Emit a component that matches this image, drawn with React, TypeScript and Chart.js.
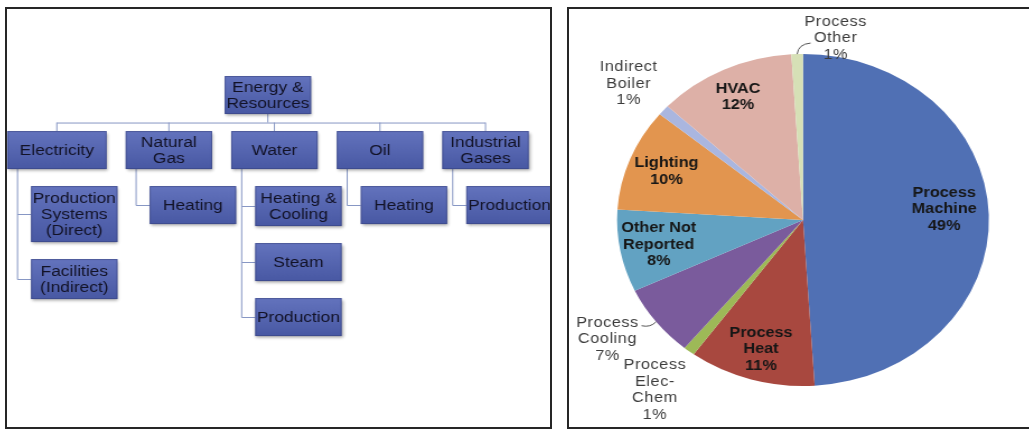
import { useEffect, useRef } from "react";
import { Chart, registerables } from "chart.js";

Chart.register(...registerables);

// ---------- Left panel: hierarchy ----------
const rootLabel = "Energy &\nResources";
const groupLabels = ["Electricity", "Natural\nGas", "Water", "Oil", "Industrial\nGases"];
const childLabels = [
  ["Production\nSystems\n(Direct)", "Facilities\n(Indirect)"],
  ["Heating"],
  ["Heating &\nCooling", "Steam", "Production"],
  ["Heating"],
  ["Production"],
];

// ---------- Right panel: pie ----------
const sliceLabels = [
  "Process\nMachine",
  "Process\nHeat",
  "Process\nElec-\nChem",
  "Process\nCooling",
  "Other Not\nReported",
  "Lighting",
  "Indirect\nBoiler",
  "HVAC",
  "Process\nOther",
];
const sliceValues = [49, 11, 1, 7, 8, 10, 1, 12, 1];
const sliceColors = [
  "#5070B4",
  "#A8483F",
  "#9DB957",
  "#7A5B9C",
  "#62A2C2",
  "#E2954F",
  "#AAB6DF",
  "#DDB0A7",
  "#D6E0B6",
];

// label placement (radius fraction + small nudges), styling only
const labelPlace = [
  { r: 0.76, dx: 0, dy: -7 },
  { r: 0.81, dx: 0, dy: 0 },
  { r: 1.29, dx: -1, dy: 1 },
  { r: 1.27, dx: -8, dy: -10 },
  { r: 0.79, dx: 0, dy: 0 },
  { r: 0.79, dx: 0, dy: 0 },
  { r: 1.25, dx: 0, dy: 1 },
  { r: 0.82, dx: 0, dy: 0 },
  { r: 1.12, dx: 35, dy: 4 },
];

const STRETCH = 1.12;
const FONT = '"Liberation Sans", Arial, Helvetica, sans-serif';

const treePlugin = {
  id: "treeDraw",
  afterDraw(chart: any) {
    const ctx = chart.ctx as CanvasRenderingContext2D;
    const xs = chart.scales.x;
    const ys = chart.scales.y;
    const area = chart.chartArea;
    const BW = 86.5 / STRETCH;
    const BH = 38;
    const GAP = 17;
    const LH = 16;
    const boxH = (lab: string) => Math.max(BH, lab.split("\n").length * LH + 8);

    const groups = groupLabels.map((lab, i) => {
      const cx = xs.getPixelForValue(i);
      let left = cx - BW / 2;
      const right = cx + BW / 2;
      if (i === 0) left = Math.min(left, area.left + 2 / STRETCH);
      const cy = ys.getPixelForValue(1);
      return { left, right, top: cy - BH / 2, bottom: cy + BH / 2, label: lab };
    });
    const rootCx = (groups[0].left + groups[groups.length - 1].right) / 2;
    const rootCy = ys.getPixelForValue(0);
    const root = { left: rootCx - BW / 2, right: rootCx + BW / 2, top: rootCy - BH / 2, bottom: rootCy + BH / 2, label: rootLabel };

    const childBoxes: any[] = [];
    const connectors: any[] = [];
    groups.forEach((g, i) => {
      let top = g.bottom + GAP;
      const left = g.left + 24 / STRETCH;
      const vx = g.left + 10.5 / STRETCH;
      let lastCy = g.bottom;
      childLabels[i].forEach((lab) => {
        const h = boxH(lab);
        const b = { left, right: left + BW, top, bottom: top + h, label: lab };
        childBoxes.push(b);
        lastCy = top + h / 2;
        connectors.push({ type: "h", x1: vx, x2: left, y: top + h / 2 });
        top += h + GAP;
      });
      connectors.push({ type: "v", x: vx, y1: g.bottom, y2: lastCy });
    });

    const busY = (root.bottom + groups[0].top) / 2;
    ctx.save();
    ctx.strokeStyle = "#8797C4";
    ctx.lineWidth = 1;
    ctx.beginPath();
    ctx.moveTo(rootCx, root.bottom);
    ctx.lineTo(rootCx, busY);
    const gc = groups.map((g) => (g.left + g.right) / 2);
    ctx.moveTo(gc[0], busY + 0.5);
    ctx.lineTo(gc[gc.length - 1], busY + 0.5);
    gc.forEach((x, i) => {
      ctx.moveTo(x, busY);
      ctx.lineTo(x, groups[i].top);
    });
    connectors.forEach((c) => {
      if (c.type === "v") {
        ctx.moveTo(c.x, c.y1);
        ctx.lineTo(c.x, c.y2 + 0.5);
      } else {
        ctx.moveTo(c.x1, Math.round(c.y) + 0.5);
        ctx.lineTo(c.x2, Math.round(c.y) + 0.5);
      }
    });
    ctx.stroke();
    ctx.restore();

    const drawBox = (b: any) => {
      const w = b.right - b.left;
      const h = b.bottom - b.top;
      ctx.save();
      ctx.shadowColor = "rgba(0,0,0,0.35)";
      ctx.shadowBlur = 3;
      ctx.shadowOffsetX = 1;
      ctx.shadowOffsetY = 2;
      const grad = ctx.createLinearGradient(0, b.top, 0, b.bottom);
      grad.addColorStop(0, "#6373BD");
      grad.addColorStop(1, "#4858A3");
      ctx.fillStyle = grad;
      ctx.fillRect(b.left, b.top, w, h);
      ctx.restore();
      ctx.save();
      ctx.strokeStyle = "rgba(55,65,125,0.55)";
      ctx.lineWidth = 1;
      ctx.strokeRect(b.left + 0.5, b.top + 0.5, w - 1, h - 1);
      ctx.fillStyle = "#121226";
      ctx.font = `15.5px ${FONT}`;
      ctx.textAlign = "center";
      ctx.textBaseline = "middle";
      const lines = b.label.split("\n");
      const cx = b.left + w / 2;
      const cy = b.top + h / 2;
      lines.forEach((t: string, k: number) => {
        ctx.fillText(t, cx, cy + (k - (lines.length - 1) / 2) * LH + 1);
      });
      ctx.restore();
    };
    drawBox(root);
    groups.forEach(drawBox);
    childBoxes.forEach(drawBox);
  },
};

const pieLabelPlugin = {
  id: "pieLabels",
  afterDatasetsDraw(chart: any) {
    const ctx = chart.ctx as CanvasRenderingContext2D;
    const arcs = chart.getDatasetMeta(0).data;
    arcs.forEach((arc: any, i: number) => {
      const { x, y, startAngle, endAngle, outerRadius } = arc.getProps(
        ["x", "y", "startAngle", "endAngle", "outerRadius"],
        true
      );
      const mid = (startAngle + endAngle) / 2;
      const p = labelPlace[i];
      const r = outerRadius * p.r;
      const cx = x + Math.cos(mid) * r + p.dx;
      const cy = y + Math.sin(mid) * r + p.dy;
      const lines = [...sliceLabels[i].split("\n"), `${sliceValues[i]}%`];
      const inside = p.r < 1;
      ctx.save();
      ctx.font = inside ? `bold 14.5px ${FONT}` : `14.5px ${FONT}`;
      (ctx as any).letterSpacing = inside ? "0px" : "0.5px";
      ctx.fillStyle = inside ? "#161616" : "#3C3C3C";
      ctx.textAlign = "center";
      ctx.textBaseline = "middle";
      const lh = 16.5;
      lines.forEach((t, k) => {
        ctx.fillText(t, cx, cy + (k - (lines.length - 1) / 2) * lh);
      });
      ctx.restore();

      // leader lines for small outside labels
      if (i === 3 || i === 8) {
        const ex = x + Math.cos(mid) * outerRadius;
        const ey = y + Math.sin(mid) * outerRadius;
        ctx.save();
        ctx.strokeStyle = "#555";
        ctx.lineWidth = 1;
        ctx.beginPath();
        ctx.moveTo(ex, ey);
        if (i === 3) {
          ctx.quadraticCurveTo(ex - 5, ey + 6, ex - 13, ey + 4);
        } else {
          ctx.quadraticCurveTo(ex + 1, ey - 10, ex + 12, ey - 11);
        }
        ctx.stroke();
        ctx.restore();
      }
    });
  },
};

export default function App() {
  const treeRef = useRef<HTMLCanvasElement>(null);
  const pieRef = useRef<HTMLCanvasElement>(null);

  useEffect(() => {
    const tree = new Chart(treeRef.current as HTMLCanvasElement, {
      type: "scatter",
      data: {
        datasets: [
          {
            data: groupLabels.map((_, i) => ({ x: i, y: 1 })),
            pointRadius: 0,
            pointHoverRadius: 0,
          },
        ],
      },
      options: {
        responsive: false,
        animation: false,
        events: [],
        layout: { padding: 0 },
        scales: {
          x: { display: false, min: -0.553, max: 4.626 },
          y: { display: false, min: -1.6, max: 6.07, reverse: true },
        },
        plugins: { legend: { display: false }, tooltip: { enabled: false } },
      },
      plugins: [treePlugin],
    } as any);

    const pie = new Chart(pieRef.current as HTMLCanvasElement, {
      type: "pie",
      data: {
        labels: sliceLabels.map((s) => s.replace(/\n/g, " ")),
        datasets: [
          {
            data: sliceValues,
            backgroundColor: sliceColors,
            borderWidth: 0,
          },
        ],
      },
      options: {
        responsive: false,
        animation: false,
        events: [],
        layout: { padding: { left: 44.7, right: 35.3, top: 47, bottom: 43 } },
        plugins: { legend: { display: false }, tooltip: { enabled: false } },
      },
      plugins: [pieLabelPlugin],
    } as any);

    return () => {
      tree.destroy();
      pie.destroy();
    };
  }, []);

  return (
    <div
      style={{
        position: "fixed",
        left: 0,
        top: 0,
        width: 1029,
        height: 430,
        overflow: "hidden",
        background: "#fff",
      }}
    >
      <div
        style={{
          position: "absolute",
          left: 5,
          top: 7,
          width: 488,
          height: 422,
          transform: `scaleX(${STRETCH})`,
          transformOrigin: "0 0",
        }}
      >
        <canvas ref={treeRef} width={488} height={422} style={{ display: "block", width: 488, height: 422 }} />
      </div>
      <div
        style={{
          position: "absolute",
          left: 5,
          top: 7,
          width: 547,
          height: 422,
          border: "2px solid #262626",
          boxSizing: "border-box",
        }}
      />
      <div
        style={{
          position: "absolute",
          left: 567,
          top: 7,
          width: 412,
          height: 422,
          transform: `scaleX(${STRETCH})`,
          transformOrigin: "0 0",
        }}
      >
        <canvas ref={pieRef} width={412} height={422} style={{ display: "block", width: 412, height: 422 }} />
      </div>
      <div
        style={{
          position: "absolute",
          left: 567,
          top: 7,
          width: 475,
          height: 422,
          border: "2px solid #262626",
          boxSizing: "border-box",
        }}
      />
    </div>
  );
}
